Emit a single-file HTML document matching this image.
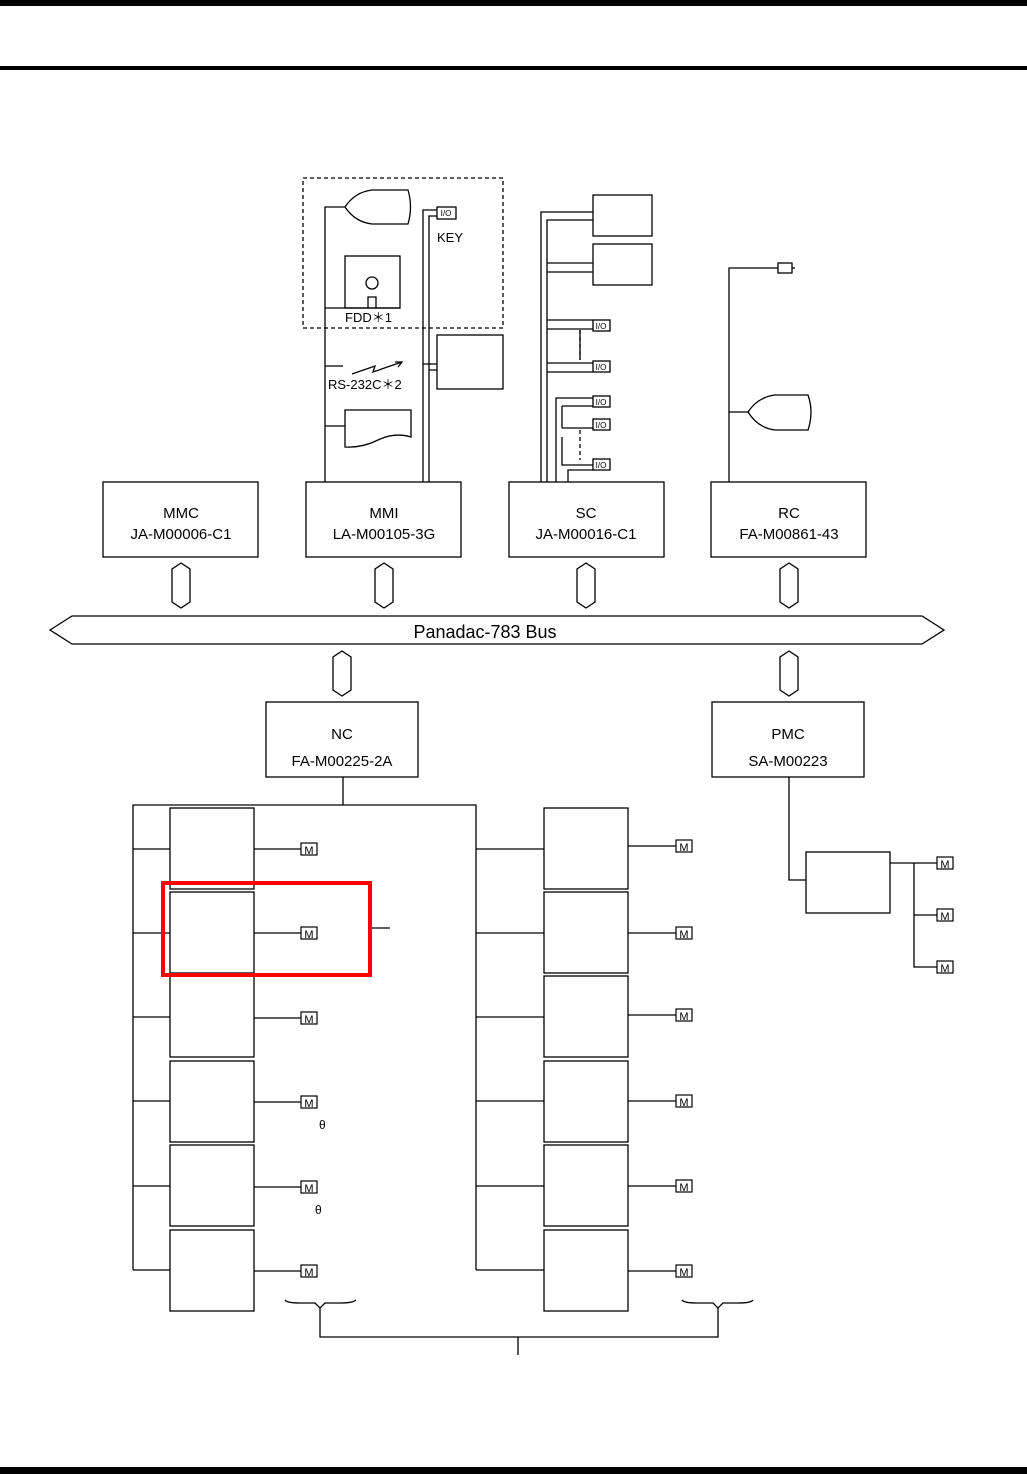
<!DOCTYPE html><html><head><style>body{margin:0;background:#fff}svg{display:block}text{font-family:"Liberation Sans",sans-serif;fill:#000}</style></head><body>
<svg width="1027" height="1474" viewBox="0 0 1027 1474" xmlns="http://www.w3.org/2000/svg">
<rect x="0" y="0" width="1027" height="6" fill="#000"/>
<rect x="0" y="66" width="1027" height="4" fill="#000"/>
<rect x="0" y="1467" width="1027" height="7" fill="#000"/>
<g fill="none" stroke="#000" stroke-width="1.3">
<!-- top devices -->
<rect x="303" y="178" width="200" height="150" stroke-dasharray="4,3"/>
<path d="M325 482V207H345"/>
<path d="M345 207Q355 192 372 190H408Q413 207 408 224H372Q355 222 345 207Z"/>
<rect x="345" y="256" width="55" height="52"/><circle cx="372" cy="283" r="6"/><path d="M368 308V297H376V308"/>
<path d="M325 308H400"/>
<path d="M325 366H343M352 374L375 366L373 372L402 362M395 362H402L398 367"/>
<path d="M325 426H345M345 410H411V437Q395 432 378 440Q362 448 345 447Z"/>
<path d="M423 482V210H437M429 482V216H437"/>
<rect x="437" y="207" width="19" height="12"/>
<path d="M423 364H437M429 370H437"/><rect x="437" y="335" width="66" height="54"/>
<!-- SC -->
<path d="M541 482V212H593M547 482V220H593M547 263H593M547 272H593M547 320H593M547 329H593M547 363H593M547 372H593M580 330V360" />
<path d="M580 330V360" stroke-dasharray="4,3"/>
<rect x="593" y="195" width="59" height="41"/><rect x="593" y="244" width="59" height="41"/>
<path d="M556 482V398H593M562 406H593M562 428H593M562 437V465H593M562 406V428M568 482V470H593"/>
<path d="M580 430V460" stroke-dasharray="4,3"/>
<rect x="593" y="320" width="17" height="11"/><rect x="593" y="361" width="17" height="11"/><rect x="593" y="396" width="17" height="11"/><rect x="593" y="419" width="17" height="11"/><rect x="593" y="459" width="17" height="11"/>
<!-- RC -->
<path d="M729 482V268H778M729 412H748"/><rect x="778" y="263" width="14" height="10"/><path d="M792 268H795"/>
<path d="M748 412Q758 397 775 395H808Q814 412 808 430H775Q758 428 748 412Z"/>
<!-- boxes -->
<rect x="103" y="482" width="155" height="75"/><rect x="306" y="482" width="155" height="75"/><rect x="509" y="482" width="155" height="75"/><rect x="711" y="482" width="155" height="75"/>
<path d="M50 630L72 616H922L944 630L922 644H72Z"/>
<rect x="266" y="702" width="152" height="75"/><rect x="712" y="702" width="152" height="75"/>
<!-- NC -->
<path d="M343 777V805M133 1270V805H476V1270"/>
<path d="M133 849H170M133 933H170M133 1017H170M133 1101H170M133 1186H170M133 1270H170"/>
<path d="M476 849H544M476 933H544M476 1017H544M476 1101H544M476 1186H544M476 1270H544"/>
<path d="M254 849H301M254 933H301M254 1018H301M254 1102H301M254 1187H301M254 1271H301"/>
<path d="M628 846H676M628 933H676M628 1015H676M628 1101H676M628 1186H676M628 1271H676"/>
<rect x="170" y="808" width="84" height="81"/><rect x="170" y="892" width="84" height="81"/><rect x="170" y="976" width="84" height="81"/><rect x="170" y="1061" width="84" height="81"/><rect x="170" y="1145" width="84" height="81"/><rect x="170" y="1230" width="84" height="81"/>
<rect x="544" y="808" width="84" height="81"/><rect x="544" y="892" width="84" height="81"/><rect x="544" y="976" width="84" height="81"/><rect x="544" y="1061" width="84" height="81"/><rect x="544" y="1145" width="84" height="81"/><rect x="544" y="1230" width="84" height="81"/>
<path d="M370 928H390"/>
<!-- PMC -->
<path d="M789 777V880H806M890 863H937M914 863V967H937M914 915H937"/>
<rect x="806" y="852" width="84" height="61"/>
<!-- braces -->
<path d="M285 1300Q287 1303 300 1303H315L320 1308L325 1303H340Q353 1303 356 1300"/>
<path d="M682 1300Q684 1303 697 1303H713L718 1308L723 1303H738Q751 1303 753 1300"/>
<path d="M320 1308V1337H718V1308M518 1337V1355"/>
</g>
<g fill="#fff" stroke="#000" stroke-width="1.3">
<path d="M181 563l9 6v33l-9 6l-9-6v-33z"/><path d="M384 563l9 6v33l-9 6l-9-6v-33z"/><path d="M586 563l9 6v33l-9 6l-9-6v-33z"/><path d="M789 563l9 6v33l-9 6l-9-6v-33z"/>
<path d="M342 651l9 6v33l-9 6l-9-6v-33z"/><path d="M789 651l9 6v33l-9 6l-9-6v-33z"/>
</g>
<rect x="163" y="883" width="207" height="92" fill="none" stroke="#f00" stroke-width="4"/>
<g font-size="10" text-anchor="middle">
<g id="m"></g>
</g>
<g fill="#fff" stroke="#000" stroke-width="1.2">
<rect x="301" y="843" width="16" height="12"/><rect x="301" y="927" width="16" height="12"/><rect x="301" y="1012" width="16" height="12"/><rect x="301" y="1096" width="16" height="12"/><rect x="301" y="1181" width="16" height="12"/><rect x="301" y="1265" width="16" height="12"/>
<rect x="676" y="840" width="16" height="12"/><rect x="676" y="927" width="16" height="12"/><rect x="676" y="1009" width="16" height="12"/><rect x="676" y="1095" width="16" height="12"/><rect x="676" y="1180" width="16" height="12"/><rect x="676" y="1265" width="16" height="12"/>
<rect x="937" y="857" width="16" height="12"/><rect x="937" y="909" width="16" height="12"/><rect x="937" y="961" width="16" height="12"/>
</g>
<g font-size="11" text-anchor="middle">
<text x="309" y="854">M</text><text x="309" y="938">M</text><text x="309" y="1023">M</text><text x="309" y="1107">M</text><text x="309" y="1192">M</text><text x="309" y="1276">M</text>
<text x="684" y="851">M</text><text x="684" y="938">M</text><text x="684" y="1020">M</text><text x="684" y="1106">M</text><text x="684" y="1191">M</text><text x="684" y="1276">M</text>
<text x="945" y="868">M</text><text x="945" y="920">M</text><text x="945" y="972">M</text>
</g>
<g font-size="8" text-anchor="middle">
<text x="446" y="216">I/O</text><text x="601" y="329">I/O</text><text x="601" y="370">I/O</text><text x="601" y="405">I/O</text><text x="601" y="428">I/O</text><text x="601" y="468">I/O</text>
</g>
<g font-size="13">
<text x="437" y="242">KEY</text><text x="345" y="322">FDD＊1</text><text x="328" y="389">RS-232C＊2</text>
<text x="319" y="1129" font-size="12" font-family="Liberation Serif">θ</text><text x="315" y="1214" font-size="12" font-family="Liberation Serif">θ</text>
</g>
<g font-size="15" text-anchor="middle">
<text x="181" y="518">MMC</text><text x="181" y="539">JA-M00006-C1</text>
<text x="384" y="518">MMI</text><text x="384" y="539">LA-M00105-3G</text>
<text x="586" y="518">SC</text><text x="586" y="539">JA-M00016-C1</text>
<text x="789" y="518">RC</text><text x="789" y="539">FA-M00861-43</text>
<text x="342" y="739">NC</text><text x="342" y="766">FA-M00225-2A</text>
<text x="788" y="739">PMC</text><text x="788" y="766">SA-M00223</text>
<text x="485" y="638" font-size="18">Panadac-783 Bus</text>
</g>
</svg></body></html>
